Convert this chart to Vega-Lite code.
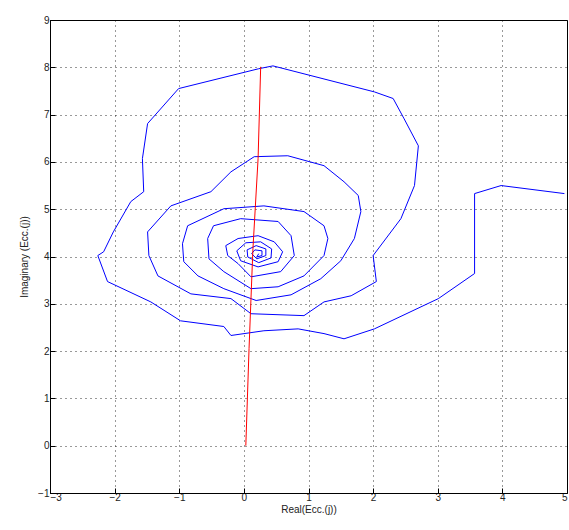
{
  "$schema": "https://vega.github.io/schema/vega-lite/v6.json",
  "width": 517,
  "height": 473,
  "autosize": {"type": "none"},
  "padding": {"left": 50, "top": 20, "right": 2, "bottom": 37},
  "background": "white",
  "config": {
    "view": {"stroke": "black", "strokeWidth": 1},
    "axis": {
      "domainColor": "black",
      "tickColor": "black",
      "tickSize": -5,
      "labelFont": "Liberation Sans",
      "labelFontSize": 10,
      "labelColor": "#222",
      "titleFont": "Liberation Sans",
      "titleFontSize": 10,
      "titleFontWeight": "normal",
      "titleColor": "#222",
      "grid": true,
      "gridColor": "black",
      "gridDash": [1, 4],
      "gridOpacity": 0.8
    }
  },
  "datasets": {
    "spiral": [
      {"i": 1, "x": 4.96, "y": 5.33},
      {"i": 2, "x": 3.98, "y": 5.50},
      {"i": 3, "x": 3.57, "y": 5.33},
      {"i": 4, "x": 3.57, "y": 3.64},
      {"i": 5, "x": 3.01, "y": 3.11},
      {"i": 6, "x": 2.02, "y": 2.47},
      {"i": 7, "x": 1.55, "y": 2.26},
      {"i": 8, "x": 1.24, "y": 2.37},
      {"i": 9, "x": 0.84, "y": 2.47},
      {"i": 10, "x": 0.31, "y": 2.43},
      {"i": 11, "x": -0.20, "y": 2.33},
      {"i": 12, "x": -0.31, "y": 2.52},
      {"i": 13, "x": -0.98, "y": 2.64},
      {"i": 14, "x": -1.44, "y": 3.04},
      {"i": 15, "x": -2.11, "y": 3.47},
      {"i": 16, "x": -2.26, "y": 4.02},
      {"i": 17, "x": -2.17, "y": 4.10},
      {"i": 18, "x": -2.02, "y": 4.52},
      {"i": 19, "x": -1.75, "y": 5.16},
      {"i": 20, "x": -1.55, "y": 5.37},
      {"i": 21, "x": -1.57, "y": 6.07},
      {"i": 22, "x": -1.49, "y": 6.81},
      {"i": 23, "x": -1.01, "y": 7.55},
      {"i": 24, "x": 0.23, "y": 7.97},
      {"i": 25, "x": 0.45, "y": 8.03},
      {"i": 26, "x": 2.02, "y": 7.48},
      {"i": 27, "x": 2.31, "y": 7.34},
      {"i": 28, "x": 2.48, "y": 6.91},
      {"i": 29, "x": 2.70, "y": 6.34},
      {"i": 30, "x": 2.64, "y": 5.50},
      {"i": 31, "x": 2.43, "y": 4.80},
      {"i": 32, "x": 2.00, "y": 4.02},
      {"i": 33, "x": 2.05, "y": 3.47},
      {"i": 34, "x": 1.66, "y": 3.17},
      {"i": 35, "x": 1.24, "y": 3.04},
      {"i": 36, "x": 0.93, "y": 2.75},
      {"i": 37, "x": 0.11, "y": 2.79},
      {"i": 38, "x": -0.20, "y": 3.11},
      {"i": 39, "x": -0.82, "y": 3.21},
      {"i": 40, "x": -1.33, "y": 3.59},
      {"i": 41, "x": -1.47, "y": 4.02},
      {"i": 42, "x": -1.49, "y": 4.52},
      {"i": 43, "x": -1.13, "y": 5.07},
      {"i": 44, "x": -0.51, "y": 5.37},
      {"i": 45, "x": -0.20, "y": 5.79},
      {"i": 46, "x": 0.16, "y": 6.11},
      {"i": 47, "x": 0.68, "y": 6.13},
      {"i": 48, "x": 1.24, "y": 5.92},
      {"i": 49, "x": 1.55, "y": 5.58},
      {"i": 50, "x": 1.77, "y": 5.29},
      {"i": 51, "x": 1.81, "y": 4.95},
      {"i": 52, "x": 1.71, "y": 4.38},
      {"i": 53, "x": 1.50, "y": 3.91},
      {"i": 54, "x": 1.19, "y": 3.53},
      {"i": 55, "x": 0.73, "y": 3.19},
      {"i": 56, "x": 0.19, "y": 3.07},
      {"i": 57, "x": -0.31, "y": 3.32},
      {"i": 58, "x": -0.71, "y": 3.59},
      {"i": 59, "x": -0.93, "y": 3.89},
      {"i": 60, "x": -0.95, "y": 4.27},
      {"i": 61, "x": -0.87, "y": 4.65},
      {"i": 62, "x": -0.31, "y": 5.01},
      {"i": 63, "x": 0.31, "y": 5.07},
      {"i": 64, "x": 0.93, "y": 4.95},
      {"i": 65, "x": 1.24, "y": 4.65},
      {"i": 66, "x": 1.30, "y": 4.38},
      {"i": 67, "x": 1.24, "y": 4.02},
      {"i": 68, "x": 0.93, "y": 3.59},
      {"i": 69, "x": 0.53, "y": 3.36},
      {"i": 70, "x": 0.11, "y": 3.32},
      {"i": 71, "x": -0.31, "y": 3.68},
      {"i": 72, "x": -0.54, "y": 3.95},
      {"i": 73, "x": -0.56, "y": 4.38},
      {"i": 74, "x": -0.47, "y": 4.65},
      {"i": 75, "x": -0.05, "y": 4.80},
      {"i": 76, "x": 0.53, "y": 4.74},
      {"i": 77, "x": 0.73, "y": 4.44},
      {"i": 78, "x": 0.78, "y": 4.02},
      {"i": 79, "x": 0.57, "y": 3.68},
      {"i": 80, "x": 0.11, "y": 3.57},
      {"i": 81, "x": -0.09, "y": 3.85},
      {"i": 82, "x": -0.25, "y": 4.02},
      {"i": 83, "x": -0.28, "y": 4.23},
      {"i": 84, "x": -0.09, "y": 4.38},
      {"i": 85, "x": 0.22, "y": 4.44},
      {"i": 86, "x": 0.47, "y": 4.31},
      {"i": 87, "x": 0.60, "y": 4.10},
      {"i": 88, "x": 0.53, "y": 3.89},
      {"i": 89, "x": 0.22, "y": 3.78},
      {"i": 90, "x": -0.05, "y": 3.91},
      {"i": 91, "x": -0.11, "y": 4.12},
      {"i": 92, "x": 0.03, "y": 4.29},
      {"i": 93, "x": 0.26, "y": 4.31},
      {"i": 94, "x": 0.43, "y": 4.16},
      {"i": 95, "x": 0.42, "y": 3.97},
      {"i": 96, "x": 0.23, "y": 3.87},
      {"i": 97, "x": 0.06, "y": 3.99},
      {"i": 98, "x": 0.05, "y": 4.14},
      {"i": 99, "x": 0.19, "y": 4.23},
      {"i": 100, "x": 0.34, "y": 4.16},
      {"i": 101, "x": 0.34, "y": 4.02},
      {"i": 102, "x": 0.20, "y": 3.95},
      {"i": 103, "x": 0.12, "y": 4.06},
      {"i": 104, "x": 0.17, "y": 4.14},
      {"i": 105, "x": 0.28, "y": 4.12},
      {"i": 106, "x": 0.28, "y": 4.02},
      {"i": 107, "x": 0.20, "y": 3.99},
      {"i": 108, "x": 0.23, "y": 4.06}
    ],
    "redline": [
      {"i": 1, "x": 0.26, "y": 8.01},
      {"i": 2, "x": 0.22, "y": 6.07},
      {"i": 3, "x": 0.14, "y": 4.16},
      {"i": 4, "x": 0.08, "y": 2.05},
      {"i": 5, "x": 0.03, "y": 0.0}
    ]
  },
  "layer": [
    {
      "data": {"name": "spiral"},
      "mark": {"type": "line", "color": "#0000ff", "strokeWidth": 1, "clip": true},
      "encoding": {
        "x": {"field": "x", "type": "quantitative", "scale": {"domain": [-3, 5], "nice": false, "zero": false}, "axis": {"values": [-3, -2, -1, 0, 1, 2, 3, 4, 5], "title": "Real(Ecc.(j))", "format": "d", "labelPadding": 4, "titlePadding": 2}},
        "y": {"field": "y", "type": "quantitative", "scale": {"domain": [-1, 9], "nice": false, "zero": false}, "axis": {"values": [-1, 0, 1, 2, 3, 4, 5, 6, 7, 8, 9], "title": "Imaginary (Ecc.(j))", "format": "d", "labelPadding": 6, "titlePadding": 8}},
        "order": {"field": "i", "type": "quantitative"}
      }
    },
    {
      "data": {"name": "redline"},
      "mark": {"type": "line", "color": "#ff0000", "strokeWidth": 1},
      "encoding": {
        "x": {"field": "x", "type": "quantitative"},
        "y": {"field": "y", "type": "quantitative"},
        "order": {"field": "i", "type": "quantitative"}
      }
    }
  ]
}
